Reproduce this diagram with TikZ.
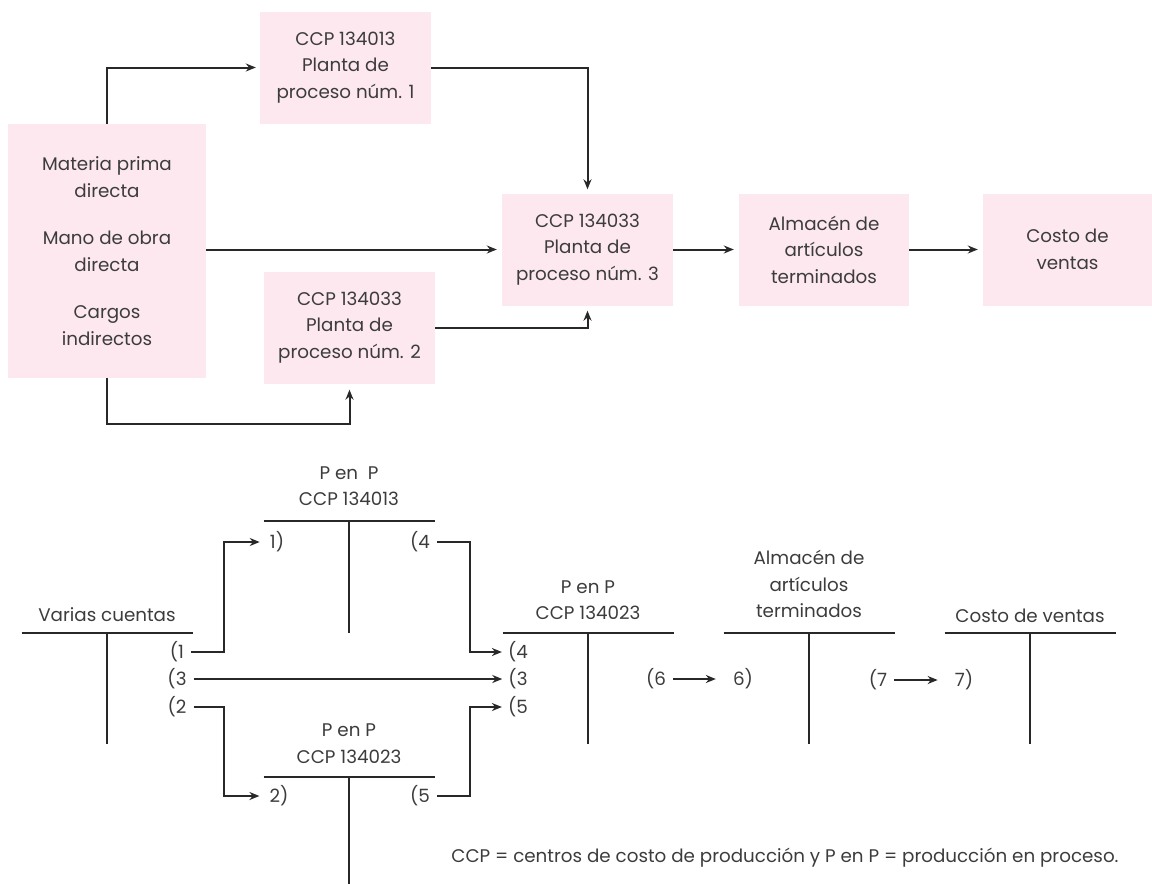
\documentclass[tikz,border=0pt]{standalone}
\usepackage{fontspec}
\setmainfont{Poppins}
\usetikzlibrary{arrows.meta}
\definecolor{boxpink}{RGB}{252,232,238}
\definecolor{ink}{RGB}{60,60,60}
\definecolor{wire}{RGB}{40,40,40}
\newcommand\txt{\fontsize{18.3}{26.5}\selectfont}
\tikzset{
  box/.style={fill=boxpink, draw=none, minimum width=171pt, minimum height=112pt,
              align=center, text=ink, font=\txt, inner sep=0pt},
  wireline/.style={draw=wire, line width=2pt},
  arr/.style={wireline, -{Stealth[length=10pt,width=8pt]}},
  lbl/.style={text=ink, font=\txt, inner sep=0pt},
  title/.style={text=ink, font=\txt, align=center, inner sep=0pt},
}
\begin{document}
\begin{tikzpicture}[x=1pt,y=-1pt]
\useasboundingbox (0,0) rectangle (1152,884);

% ---------- flow of costs between plants ----------
\node[box, minimum width=198pt, minimum height=254pt] (mat) at (107,251)
  {Materia prima\\directa\\[21pt]Mano de obra\\directa\\[21pt]Cargos\\indirectos};
\node[box] (p1) at (345.5,67.5) {CCP 134013\\Planta de\\proceso núm. 1};
\node[box] (p2) at (349.5,327.5) {CCP 134033\\Planta de\\proceso núm. 2};
\node[box] (p3) at (587.5,249.5) {CCP 134033\\Planta de\\proceso núm. 3};
\node[box, minimum width=170pt] (alm) at (824,249.5) {Almacén de\\artículos\\terminados};
\node[box, minimum width=169pt] (cv) at (1067.5,249.5) {Costo de\\ventas};

\draw[arr, shorten >=4pt] (mat.north) |- (p1.west);
\draw[arr, shorten >=4pt] (p1.east) -| (p3.north);
\draw[arr, shorten >=5pt] (mat.east |- p3.west) -- (p3.west);
\draw[arr, shorten >=5pt] (p2.east) -| (p3.south);
\draw[arr, shorten >=6pt] (mat.south) -- ++(0,46) -| (p2.south);
\draw[arr, shorten >=5pt] (p3.east) -- (alm.west);
\draw[arr, shorten >=5pt] (alm.east) -- (cv.west);

% ---------- T accounts ----------
\node[title] (tvc) at (107,615) {Varias cuentas};
\node[title] (t1)  at (349,486) {P en~~P\\CCP 134013};
\node[title] (t2)  at (349,743.5) {P en P\\CCP 134023};
\node[title] (t3)  at (588,600) {P en P\\CCP 134023};
\node[title] (t4)  at (809,584) {Almacén de\\artículos\\terminados};
\node[title] (t5)  at (1030,616) {Costo de ventas};

\coordinate (avc) at (107,633);
\coordinate (a1)  at (349,521);
\coordinate (a2)  at (349,777);
\coordinate (a3)  at (588,633);
\coordinate (a4)  at (809,633);
\coordinate (a5)  at (1030,633);

\foreach \acc/\len in {avc/111, a1/112, a2/107, a3/111, a4/111, a5/111}{
  \draw[wireline] (\acc) ++(-85.5,0) -- ++(171,0);
  \draw[wireline] (\acc) -- ++(0,\len);
}

% entry labels
\node[lbl] (vc1) at (177,652) {(1};
\node[lbl] (vc3) at (177,679) {(3};
\node[lbl] (vc2) at (177,707) {(2};
\node[lbl] (d1)  at (277,542) {1)};
\node[lbl] (c1)  at (420,542) {(4};
\node[lbl] (d2)  at (279,796) {2)};
\node[lbl] (c2)  at (420,796) {(5};
\node[lbl] (d34) at (518,652) {(4};
\node[lbl] (d33) at (518,679) {(3};
\node[lbl] (d35) at (518,707) {(5};
\node[lbl] (c3)  at (656,679) {(6};
\node[lbl] (d4)  at (743,679) {6)};
\node[lbl] (c4)  at (878,680) {(7};
\node[lbl] (d5)  at (964,680) {7)};

\coordinate (jl) at (224,0);
\coordinate (jr) at (470,0);

\draw[arr, shorten <=7pt, shorten >=10pt] (vc1.east) -- (vc1.east -| jl) |- (d1.west);
\draw[arr, shorten <=7pt, shorten >=10pt] (vc2.east) -- (vc2.east -| jl) |- (d2.west);
\draw[arr, shorten <=7pt, shorten >=6pt]  (vc3.east) -- (d33.west);
\draw[arr, shorten <=7pt, shorten >=6pt]  (c1.east) -- (c1.east -| jr) |- (d34.west);
\draw[arr, shorten <=7pt, shorten >=6pt]  (c2.east) -- (c2.east -| jr) |- (d35.west);
\draw[arr, shorten <=7pt, shorten >=17pt] (c3.east) -- (d4.west);
\draw[arr, shorten <=7pt, shorten >=17pt] (c4.east) -- (d5.west);

\node[lbl] (legend) at (785,858)
  {CCP = centros de costo de producción y P en P = producción en proceso.};
\end{tikzpicture}
\end{document}
